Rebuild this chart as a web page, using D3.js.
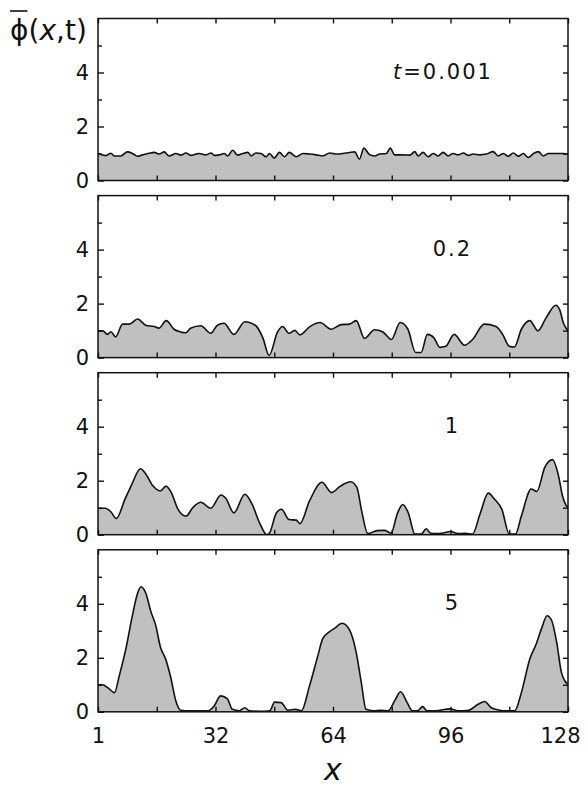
<!DOCTYPE html>
<html>
<head>
<meta charset="utf-8">
<script src="https://cdn.jsdelivr.net/npm/d3@7"></script>
<style>
  body { margin: 0; background: #fff; }
  svg text { font-family: "DejaVu Sans", sans-serif; fill: #111; }
</style>
</head>
<body>
<svg width="588" height="793"></svg>
<script>
// panel labels (time)
var times = ["0.001", "0.2", "1", "5"];

// t = 0.001
var pos1 = [0,2.1,3.5,4.4,6.2,8,9.4,10.7,12.1,13.9,15.3,16.7,18,19.4,21.2,22.6,23.9,25.3,26.7,27.6,29.4,30.8,31.7,33,34.4,35.3,36.7,38,39.4,40.8,41.7,43,44.4,45.8,46.7,48,49.4,50.8,52.1,54,55.8,57.6,59.4,61.2,63.1,64.9,66.7,68.5,69.9,71.2,72.4,74,75.3,76.7,78.5,79.6,80.8,83.1,84.9,86.3,87.2,88.5,89.9,91.3,92.6,94,95.4,96.7,98.1,99.5,100.8,102.2,104,105.8,107.6,109,110.4,111.7,113.1,114.5,115.8,117.2,118.6,119.9,121.3,122.7,124.9,126.8,128];
var phi1 = [1.0,0.92,1.01,0.91,0.91,1.06,1.0,0.9,0.95,1.01,1.04,0.98,1.06,0.91,1.0,0.94,1.02,0.93,0.98,1.0,0.95,1.02,0.93,0.95,1.0,0.91,1.12,0.94,1.0,1.04,0.91,1.02,1.0,0.88,1.0,0.83,1.04,0.88,1.04,0.88,1.0,0.98,0.95,0.91,1.02,0.98,1.0,1.04,1.06,0.79,1.2,0.95,0.91,0.98,1.0,1.2,0.95,0.95,0.94,1.07,0.91,1.04,0.88,1.0,0.91,1.04,0.91,1.0,0.95,1.02,0.93,0.98,0.95,0.98,1.07,0.91,1.0,0.9,1.02,0.9,1.0,0.85,1.0,1.07,0.91,1.0,1.0,1.0,0.98];

// t = 0.2
var pos2 = [0,1.3,2.6,3.5,4.8,6.7,8.5,10.8,13,15.3,16.6,18.6,20.7,22.5,23.9,25.2,28,30.7,32.5,34.3,37,40,43,44.9,46.6,48.9,50.3,52,53.6,55,57.6,60.5,63.5,66.2,68.5,70.3,72.6,75.3,77.6,79.9,82.3,84.4,86.5,88,89.7,91.5,93.1,94.7,97,99.8,102,105.2,108.4,110.2,112,113.4,115.3,117.6,119.8,122.1,124.7,125.8,126.7,128];
var phi2 = [0.99,0.99,0.86,0.96,0.77,1.24,1.24,1.43,1.2,1.15,1.09,1.37,1.05,0.95,0.92,1.09,1.18,0.9,1.2,1.27,0.86,1.33,1.18,0.73,0.08,0.95,1.15,0.9,1.01,0.84,1.14,1.3,1.05,1.22,1.24,1.37,0.71,1.03,0.95,0.67,1.3,1.05,0.19,0.19,0.86,0.73,0.38,0.42,0.86,0.46,0.67,1.24,1.15,0.86,0.42,0.39,1.05,1.37,0.99,1.49,1.94,1.75,1.3,0.99];

// t = 1
var pos3 = [0,2,3.5,5,7.3,9,11.6,13,15,17,18.5,20,21.8,24,25.8,28,30.7,33.5,34.8,37,40,42,44,46,46.7,48.6,50,52,54,55,57.6,61,63.6,66,68.8,70.5,71.8,73.5,76,78,79.8,81.6,83,84.5,86.3,88,89.4,90.5,92,94,96,98,100,102,104,106.3,108,110,112,113.7,115.3,118,119.5,121.7,123.8,125.3,126.5,127.6,128];
var phi3 = [0.98,0.98,0.85,0.6,1.3,1.8,2.44,2.25,1.8,1.62,1.8,1.55,0.94,0.69,1.0,1.2,0.98,1.47,1.35,0.81,1.5,1.12,0.44,0,0.06,0.81,0.94,0.56,0.54,0.41,1.25,1.94,1.56,1.8,1.96,1.75,0.88,0.04,0.15,0.16,0.06,0.81,1.12,0.81,0.02,0.02,0.22,0.06,0.04,0.06,0.12,0.04,0.05,0.02,0.75,1.54,1.31,0.94,0.02,0.02,0.69,1.69,1.6,2.5,2.78,2.25,1.44,1.06,1.0];

// t = 5
var pos4 = [0,1.3,2.6,4.5,5.8,7.6,9.4,10.8,11.7,13,14.4,15.7,17,18.4,19.8,21.2,22.5,25,28,30,31.6,33.4,35.2,36.6,38.5,40,41.2,44,46.8,48.1,49.9,51.7,53.8,55.4,57.6,59.9,61.2,63,64.4,66.5,68.5,70.3,71.7,73,75,77,79,81,82.4,84.2,85.6,87,88.4,89.6,92,95.8,98,101,103.5,105.3,107.1,109.4,111,113.5,115.3,117.6,119.4,120.8,122.3,123.5,124.9,126.2,127.1,128];
var phi4 = [1.0,1.0,0.9,0.71,1.34,2.34,3.59,4.4,4.63,4.4,3.71,3.21,2.4,1.96,1.28,0.4,0.06,0.04,0.04,0.04,0.21,0.59,0.49,0.09,0.04,0.15,0.04,0.02,0.04,0.36,0.34,0.06,0.09,0.04,0.96,2.09,2.71,2.96,3.09,3.28,3.03,2.21,1.09,0.09,0.04,0.06,0.04,0.46,0.74,0.34,0.04,0.04,0.19,0.04,0.04,0.11,0.04,0.06,0.28,0.38,0.15,0.06,0.04,0.04,0.71,1.96,2.53,3.09,3.56,3.4,2.59,1.46,1.15,1.03];

var xTicksMajor = [0, 32, 64, 96, 128];
var xTickLabels = ["1", "32", "64", "96", "128"];
var xTicksMinor = [16, 48, 80, 112];
var yTicksMajor = [0, 2, 4];
var yTicksMinor = [1, 3, 5];

var panels = [
  {pos: pos1, phi: phi1},
  {pos: pos2, phi: phi2},
  {pos: pos3, phi: phi3},
  {pos: pos4, phi: phi4}
];

var svg = d3.select("svg"),
    left = 98, right = 568,
    top0 = 18.5, step = 177.1, ph = 162;

var x = d3.scaleLinear().domain([0, 128]).range([left, right]);

panels.forEach(function (p, i) {
  var top = top0 + i * step;
  var y = d3.scaleLinear().domain([0, 6]).range([top + ph, top]);
  var g = svg.append("g");
  var pts = p.pos.map(function (d, k) { return [d, p.phi[k]]; });

  var clipId = "clip" + i;
  svg.append("clipPath").attr("id", clipId)
    .append("rect").attr("x", left).attr("y", top).attr("width", right - left).attr("height", ph);

  var area = d3.area()
    .x(function (d) { return x(d[0]); })
    .y0(y(0))
    .y1(function (d) { return y(d[1]); })
    .curve(d3.curveMonotoneX);
  var line = d3.line()
    .x(function (d) { return x(d[0]); })
    .y(function (d) { return y(d[1]); })
    .curve(d3.curveMonotoneX);

  g.append("path").datum(pts)
    .attr("clip-path", "url(#" + clipId + ")")
    .attr("d", area)
    .attr("fill", "#c0c0c0");
  g.append("path").datum(pts)
    .attr("clip-path", "url(#" + clipId + ")")
    .attr("d", line)
    .attr("fill", "none")
    .attr("stroke", "#111")
    .attr("stroke-width", 1.6);

  // ticks, inward on all four sides
  function axisG(axis, tx, ty) {
    var a = g.append("g").attr("transform", "translate(" + tx + "," + ty + ")").call(axis);
    a.select(".domain").remove();
    a.selectAll("line").attr("stroke", "#111").attr("stroke-width", 1.4);
    a.selectAll("text").style("font-size", "21px").attr("fill", "#111");
    return a;
  }
  var isLast = i === panels.length - 1;
  var xb = axisG(d3.axisBottom(x).tickValues(xTicksMajor).tickSize(-5).tickPadding(16)
      .tickFormat(function (d, k) { return isLast ? xTickLabels[k] : ""; }), 0, top + ph);
  xb.selectAll("text").attr("dx", function (d) { return d === 128 ? -8 : 0; });
  axisG(d3.axisBottom(x).tickValues(xTicksMinor).tickSize(-5).tickFormat(""), 0, top + ph);
  axisG(d3.axisTop(x).tickValues(xTicksMajor.concat(xTicksMinor)).tickSize(-5).tickFormat(""), 0, top);
  axisG(d3.axisLeft(y).tickValues(yTicksMajor).tickSize(-6).tickPadding(9).tickFormat(d3.format("d")), left, 0);
  axisG(d3.axisLeft(y).tickValues(yTicksMinor).tickSize(-4).tickFormat(""), left, 0);
  axisG(d3.axisRight(y).tickValues(yTicksMajor.concat(yTicksMinor)).tickSize(-5).tickFormat(""), right, 0);

  // frame
  g.append("rect")
    .attr("x", left).attr("y", top)
    .attr("width", right - left).attr("height", ph)
    .attr("fill", "none").attr("stroke", "#111").attr("stroke-width", 1.5);

  // time label
  var lab = g.append("text")
    .attr("x", x(96.5)).attr("y", y(4.05))
    .attr("dy", "0.36em")
    .attr("text-anchor", "middle")
    .style("font-size", "21px")
    .style("letter-spacing", "2px");
  if (i === 0) {
    lab.attr("text-anchor", "start").attr("x", 393);
    lab.append("tspan").style("font-style", "italic").text("t");
    lab.append("tspan").text("=" + times[i]);
  } else {
    lab.text(times[i]);
  }
});

// y title: phi-bar(x,t)
var title = svg.append("text").attr("x", 10).attr("y", 40).style("font-size", "28px");
var phiSpan = title.append("tspan").text("\u03d5");
title.append("tspan").text("(");
title.append("tspan").style("font-style", "italic").text("x");
title.append("tspan").text(",t)");
var phiW = phiSpan.node().getComputedTextLength();
svg.append("line")
  .attr("x1", 10).attr("x2", 10 + phiW - 1)
  .attr("y1", 11).attr("y2", 11)
  .attr("stroke", "#111").attr("stroke-width", 1.6);

// x title
svg.append("text")
  .attr("x", x(64)).attr("y", 780)
  .attr("text-anchor", "middle")
  .style("font-size", "30px")
  .style("font-style", "italic")
  .text("x");
</script>
</body>
</html>
